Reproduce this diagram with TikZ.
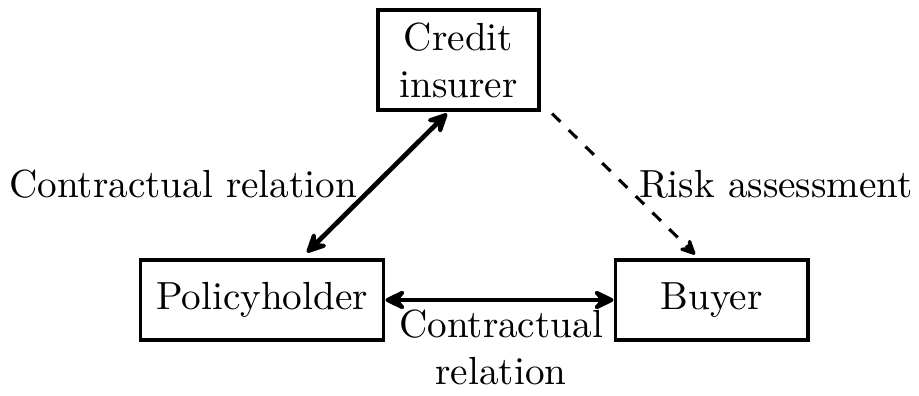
\documentclass[tikz,border=0pt]{standalone}
\usetikzlibrary{calc,arrows.meta}
\begin{document}
\begin{tikzpicture}[x=0.2551pt,y=-0.2551pt,
  entity/.style={draw,thick,inner sep=0pt,align=center,minimum height=20.4pt},
  reltip/.style={Stealth[round,length=6.8pt,width=6.6pt,inset=2.8pt]},
  rel/.style={very thick,{Stealth[round,length=6.8pt,width=6.6pt,inset=2.8pt]}-{Stealth[round,length=6.8pt,width=6.6pt,inset=2.8pt]}},
  assess/.style={thick,dashed,-{Stealth[round,length=5.2pt,width=5pt,inset=2pt]}},
  lbl/.style={inner sep=0pt,align=center}]
\useasboundingbox (0,0) rectangle (919,396);
\node[entity,minimum width=41.1pt,minimum height=25.5pt] (insurer) at (458.5,60) {Credit\\insurer};
\node[entity,minimum width=62.2pt] (pol) at (262,300) {Policyholder};
\node[entity,minimum width=49.2pt] (buyer) at (711.5,300) {Buyer};
\coordinate (a1) at ($(pol.north)+(45,-6)$);
\coordinate (a2) at ($(insurer.south)+(-11.5,2)$);
\coordinate (d1) at ($(insurer.south)+(93.5,2)$);
\coordinate (d2) at ($(buyer.north)+(-16.5,-4)$);
\draw[rel] (a1) -- (a2);
\draw[rel] (pol.east) -- (buyer.west);
\draw[assess] (d1) -- (d2);
\node[lbl,anchor=base] (l1) at (183,198) {Contractual relation};
\node[lbl,anchor=base] (l2) at (776,198) {Risk assessment};
\node[lbl,anchor=north] (l3) at (501,309.5) {Contractual\\relation};
\end{tikzpicture}
\end{document}
